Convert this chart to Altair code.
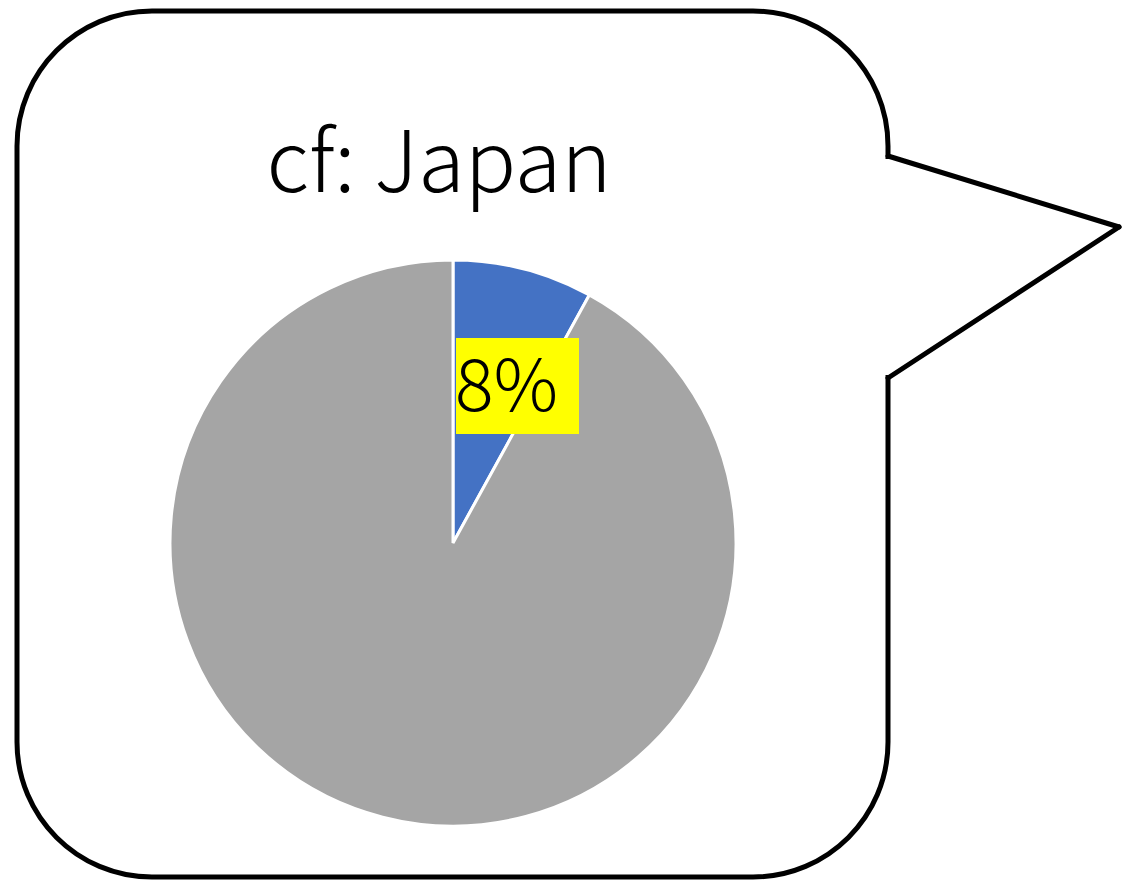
import altair as alt
import pandas as pd

# ---- data ----
categories = ["Japan", "Other"]
shares = [8, 92]
slice_order = [1, 2]
slice_colors = ["#4472C4", "#A5A5A5"]
title_text = "cf: Japan"

df = pd.DataFrame({"category": categories, "share": shares, "order": slice_order})
df["label"] = df["share"].astype(str) + "%"

FONT = "Noto Sans CJK JP"
one = alt.Data(values=[{"k": 1}])

# ---- speech bubble ----
bubble = alt.Chart(one).mark_rect(
    fill="white", stroke="black", strokeWidth=5, cornerRadius=135
).encode(x=alt.value(9), x2=alt.value(880), y=alt.value(3), y2=alt.value(869))

gap = alt.Chart(one).mark_rule(stroke="white", strokeWidth=8).encode(
    x=alt.value(880), x2=alt.value(880), y=alt.value(151), y2=alt.value(367)
)
edge1 = alt.Chart(one).mark_rule(stroke="black", strokeWidth=5, strokeCap="round").encode(
    x=alt.value(880), x2=alt.value(1111), y=alt.value(148), y2=alt.value(219)
)
edge2 = alt.Chart(one).mark_rule(stroke="black", strokeWidth=5, strokeCap="round").encode(
    x=alt.value(1111), x2=alt.value(880), y=alt.value(219), y2=alt.value(370)
)

# ---- pie ----
pie = alt.Chart(df).mark_arc(radius=283, stroke="white", strokeWidth=3).encode(
    theta=alt.Theta("share:Q", stack=True),
    color=alt.Color("category:N", scale=alt.Scale(domain=categories, range=slice_colors), legend=None),
    order=alt.Order("order:Q"),
    x=alt.value(445),
    y=alt.value(535),
)

# ---- data label ----
label_src = alt.Chart(df).transform_filter(alt.datum.category == "Japan")
label_box = label_src.mark_rect(fill="#FFFF00").encode(
    x=alt.value(448), x2=alt.value(571), y=alt.value(330), y2=alt.value(426)
)
label_text = label_src.mark_text(
    font=FONT, fontSize=72, fontWeight=300, align="left", baseline="alphabetic", color="black"
).encode(text="label:N", x=alt.value(447), y=alt.value(403))

# ---- title ----
title = alt.Chart(one).mark_text(
    font=FONT, fontSize=85, fontWeight=300, align="center", baseline="alphabetic", color="black"
).encode(text=alt.value(title_text), x=alt.value(431), y=alt.value(184))

chart = alt.layer(
    bubble, gap, edge1, edge2, pie, label_box, label_text, title
).properties(
    width=1115, height=872, padding=0, autosize=alt.AutoSizeParams(type="none"), background="white"
).configure_view(stroke=None)

chart.save("out.html", embed_options={"renderer": "svg", "actions": False})
